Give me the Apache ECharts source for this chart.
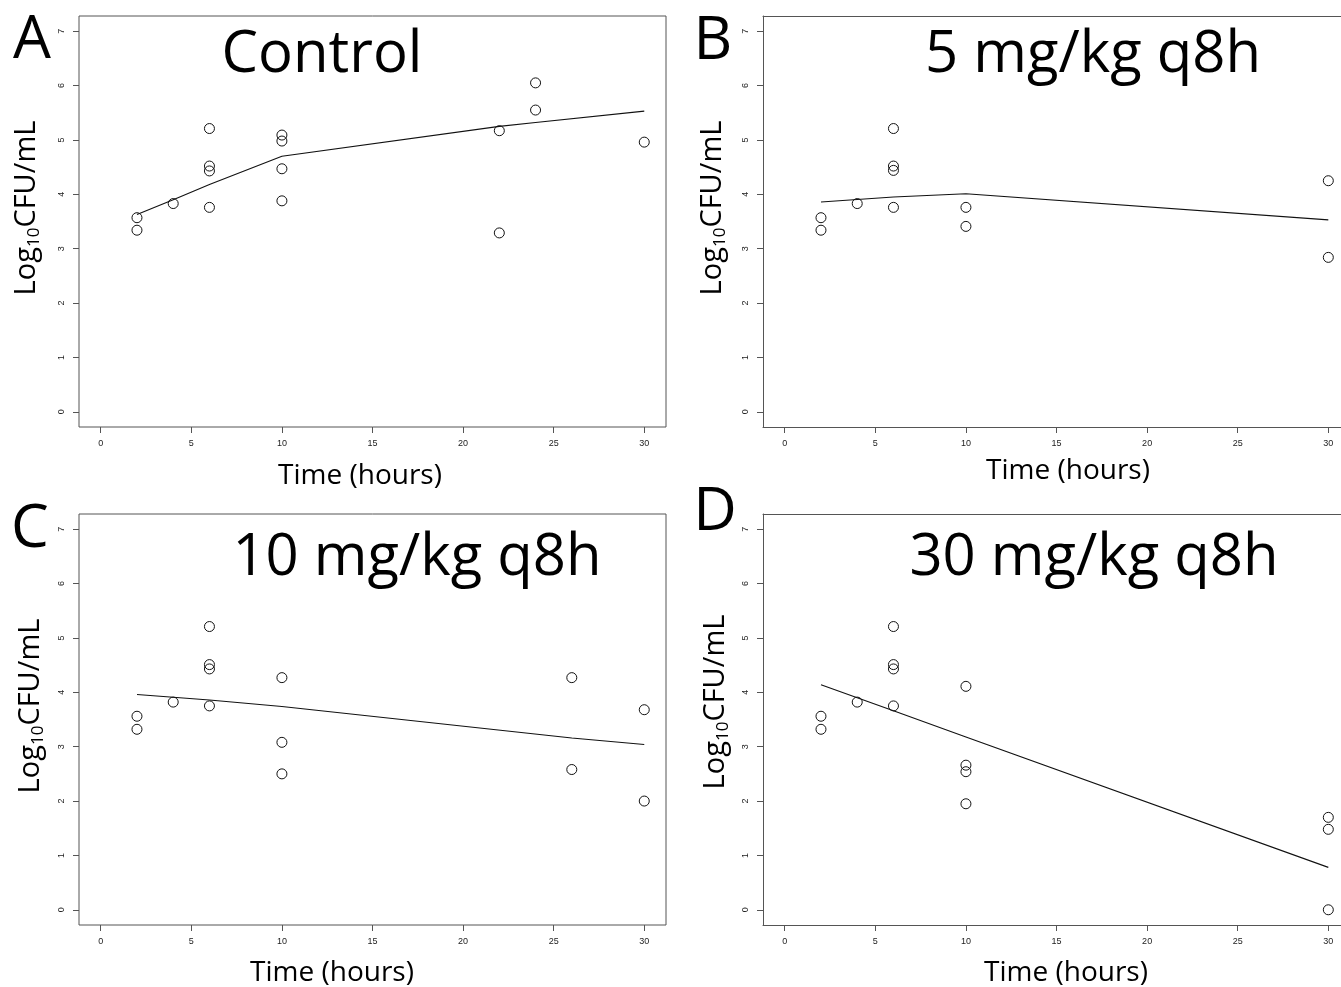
<!DOCTYPE html>
<html>
<head>
<meta charset="utf-8">
<script src="https://cdn.jsdelivr.net/npm/echarts@6/dist/echarts.min.js"></script>
<style>
html,body{margin:0;padding:0;background:#fff;}
#chart{width:1341px;height:987px;}
</style>
</head>
<body>
<div id="chart"></div>
<script>
// ---- Data ----
const panelLetters = ['A', 'B', 'C', 'D'];
const panelTitles = ['Control', '5 mg/kg q8h', '10 mg/kg q8h', '30 mg/kg q8h'];
const xTicks = [0, 5, 10, 15, 20, 25, 30];
const yTicks = [0, 1, 2, 3, 4, 5, 6, 7];

const timesA = [2, 2, 4, 6, 6, 6, 6, 10, 10, 10, 10, 22, 22, 24, 24, 30];
const valsA  = [3.57, 3.34, 3.83, 5.21, 4.52, 4.43, 3.76, 5.09, 4.98, 4.47, 3.88, 5.17, 3.29, 6.05, 5.55, 4.96];
const fitTimesA = [2, 4, 6, 10, 22, 24, 30];
const fitValsA  = [3.63, 3.90, 4.18, 4.70, 5.25, 5.32, 5.53];

const timesB = [2, 2, 4, 6, 6, 6, 6, 10, 10, 30, 30];
const valsB  = [3.57, 3.34, 3.83, 5.21, 4.52, 4.44, 3.76, 3.76, 3.41, 4.25, 2.84];
const fitTimesB = [2, 6, 10, 30];
const fitValsB  = [3.86, 3.95, 4.01, 3.53];

const timesC = [2, 2, 4, 6, 6, 6, 6, 10, 10, 10, 26, 26, 30, 30];
const valsC  = [3.56, 3.32, 3.82, 5.21, 4.51, 4.43, 3.75, 4.27, 3.08, 2.50, 4.27, 2.58, 3.68, 2.00];
const fitTimesC = [2, 4, 6, 10, 26, 30];
const fitValsC  = [3.96, 3.91, 3.86, 3.74, 3.16, 3.04];

const timesD = [2, 2, 4, 6, 6, 6, 6, 10, 10, 10, 10, 30, 30, 30];
const valsD  = [3.56, 3.32, 3.82, 5.21, 4.51, 4.43, 3.75, 4.11, 2.66, 2.54, 1.95, 1.70, 1.48, 0.00];
const fitTimesD = [2, 4, 6, 10, 30];
const fitValsD  = [4.14, 3.90, 3.66, 3.18, 0.78];

const obsTimes = [timesA, timesB, timesC, timesD];
const obsVals = [valsA, valsB, valsC, valsD];
const fitTimes = [fitTimesA, fitTimesB, fitTimesC, fitTimesD];
const fitVals = [fitValsA, fitValsB, fitValsC, fitValsD];

// ---- Layout ----
// right-hand panels are cut off by the page edge, as in the original figure
const gridPos = [
  {left: 79, top: 16, width: 587, cut: false, xMax: 31.2},
  {left: 763, top: 16, width: 578, cut: true, xMax: 30.70},
  {left: 79, top: 514, width: 587, cut: false, xMax: 31.2},
  {left: 763, top: 514, width: 578, cut: true, xMax: 30.70}
];
const letterPos = [[32, 41], [713, 42], [30, 530], [715, 513]];
const titlePos = [[322, 55], [1093, 55], [417, 558], [1094, 558]];
const xNamePos = [[360, 476], [1068, 471], [332, 973], [1066, 973]];
const yNamePos = [[27, 208], [713, 208], [31, 706], [716, 702]];

const MAIN_FONT = '"Open Sans", "Noto Sans", sans-serif';
const TICK_FONT = '"Liberation Sans", Arial, sans-serif';
const BOX = '#555';

const grids = [], xAxes = [], yAxes = [], series = [], graphics = [];

for (let i = 0; i < 4; i++) {
  const g = gridPos[i];
  grids.push({
    left: g.left, top: g.top, width: g.width, height: 411,
    show: !g.cut, borderColor: BOX, borderWidth: 1, backgroundColor: 'transparent',
    containLabel: false
  });
  const xIdx = xAxes.length;
  xAxes.push({
    type: 'value', gridIndex: i, min: -1.2, max: g.xMax, position: 'bottom',
    axisLine: {show: g.cut, onZero: false, lineStyle: {color: BOX, width: 1}},
    splitLine: {show: false},
    axisTick: {show: true, inside: false, length: 6, customValues: xTicks, lineStyle: {color: BOX, width: 1}},
    axisLabel: {show: true, customValues: xTicks, margin: 12, fontSize: 9, color: '#222', fontFamily: TICK_FONT}
  });
  if (g.cut) {
    // top edge of the frame
    xAxes.push({
      type: 'value', gridIndex: i, min: -1.2, max: g.xMax, position: 'top',
      axisLine: {show: true, onZero: false, lineStyle: {color: BOX, width: 1}},
      splitLine: {show: false}, axisTick: {show: false}, axisLabel: {show: false}
    });
  }
  const yIdx = yAxes.length;
  yAxes.push({
    type: 'value', gridIndex: i, min: -0.28, max: 7.28, position: 'left',
    axisLine: {show: g.cut, onZero: false, lineStyle: {color: BOX, width: 1}},
    splitLine: {show: false},
    axisTick: {show: true, inside: false, length: 6, customValues: yTicks, lineStyle: {color: BOX, width: 1}},
    axisLabel: {show: true, customValues: yTicks, rotate: 90, margin: 13, fontSize: 9, color: '#222', fontFamily: TICK_FONT}
  });
  series.push({
    type: 'line', xAxisIndex: xIdx, yAxisIndex: yIdx,
    data: fitTimes[i].map((t, k) => [t, fitVals[i][k]]),
    symbol: 'none', silent: true,
    lineStyle: {color: '#111', width: 1.1}
  });
  series.push({
    type: 'scatter', xAxisIndex: xIdx, yAxisIndex: yIdx,
    data: obsTimes[i].map((t, k) => [t, obsVals[i][k]]),
    symbol: 'circle', symbolSize: 10, silent: true,
    itemStyle: {color: 'rgba(0,0,0,0)', borderColor: '#111', borderWidth: 1, opacity: 1}
  });

  graphics.push({
    type: 'text', x: letterPos[i][0], y: letterPos[i][1],
    style: {text: panelLetters[i], font: '60px ' + MAIN_FONT, fill: '#000', align: 'center', verticalAlign: 'middle'}
  });
  graphics.push({
    type: 'text', x: titlePos[i][0], y: titlePos[i][1],
    style: {text: panelTitles[i], font: '58px ' + MAIN_FONT, fill: '#000', align: 'center', verticalAlign: 'middle'}
  });
  graphics.push({
    type: 'text', x: xNamePos[i][0], y: xNamePos[i][1],
    style: {text: 'Time (hours)', font: '28px ' + MAIN_FONT, fill: '#000', align: 'center', verticalAlign: 'middle'}
  });
  graphics.push({
    type: 'text', x: yNamePos[i][0], y: yNamePos[i][1], rotation: Math.PI / 2,
    style: {
      text: '{a|Log}{b|10}{a|CFU/mL}',
      align: 'center', verticalAlign: 'middle',
      rich: {
        a: {fontSize: 29, fontFamily: MAIN_FONT, fill: '#000', color: '#000'},
        b: {fontSize: 17, fontFamily: MAIN_FONT, fill: '#000', color: '#000', padding: [14, 0, 0, 0]}
      }
    }
  });
}

const chart = echarts.init(document.getElementById('chart'), null, {renderer: 'canvas'});
chart.setOption({
  animation: false,
  backgroundColor: '#fff',
  grid: grids,
  xAxis: xAxes,
  yAxis: yAxes,
  series: series,
  graphic: graphics
});
</script>
</body>
</html>
